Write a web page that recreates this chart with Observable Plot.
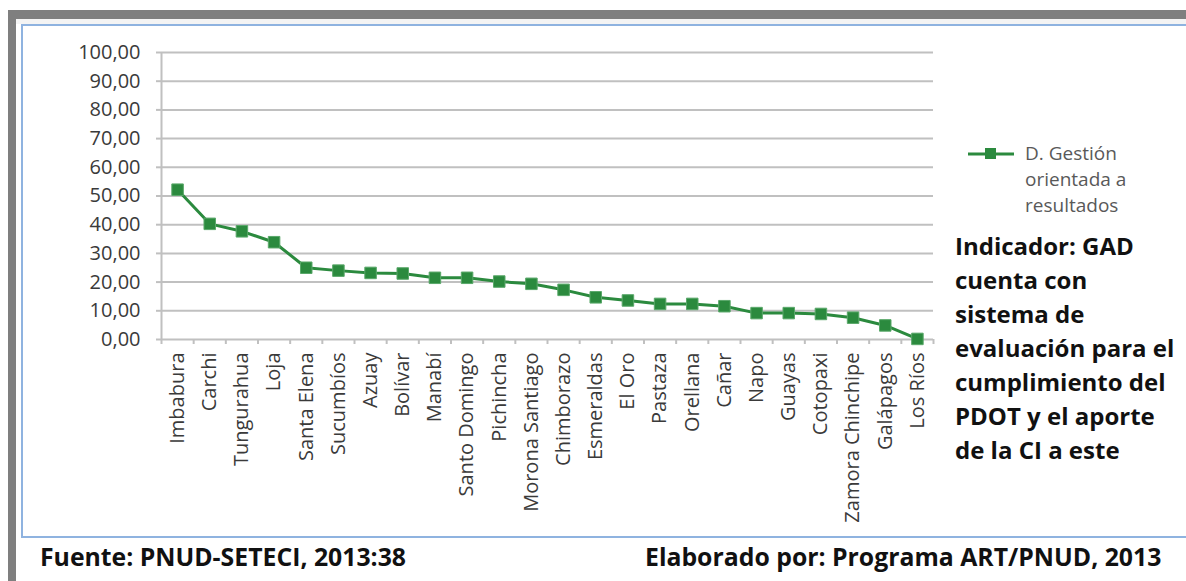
<!DOCTYPE html>
<html>
<head>
<meta charset="utf-8">
<script src="https://cdn.jsdelivr.net/npm/d3@7"></script>
<script src="https://cdn.jsdelivr.net/npm/@observablehq/plot@0.6"></script>
<style>
  html, body { margin: 0; padding: 0; background: #fff; width: 1186px; height: 581px; overflow: hidden; position: relative; font-family: "Open Sans", sans-serif; }
  .grayTop { position: absolute; left: 8px; top: 10px; width: 1178px; height: 9px; background: #7f7f7f; }
  .grayLeft { position: absolute; left: 8px; top: 10px; width: 8px; height: 571px; background: #7f7f7f; }
  .strip { position: absolute; left: 16px; top: 19px; width: 1170px; height: 5px; background: #f4f4f4; }
  .inner { position: absolute; left: 21px; top: 24px; width: 1180px; height: 514px; border: 2px solid #8fb3e0; box-sizing: border-box; }
  #chart { position: absolute; left: 0; top: 0; }
  .legend { position: absolute; left: 968px; top: 140px; font-size: 19px; line-height: 26px; color: #595959; }
  .legend svg { position: absolute; left: 0; top: 6px; }
  .legend .txt { position: absolute; left: 57px; top: 0; white-space: nowrap; }
  .indicator { position: absolute; left: 955px; top: 229px; font-weight: 700; font-size: 24px; line-height: 34px; color: #111; white-space: nowrap; }
  .foot { position: absolute; top: 539px; font-weight: 700; font-size: 24.8px; color: #111; white-space: nowrap; }
</style>
</head>
<body>
<div class="grayTop"></div>
<div class="grayLeft"></div>
<div class="strip"></div>
<div class="inner"></div>
<div id="chart"></div>
<div class="legend">
  <svg width="50" height="16"><line x1="0" y1="8" x2="46" y2="8" stroke="#2b8a3e" stroke-width="3"/><rect x="17" y="2" width="11" height="11" fill="#2b8a3e"/></svg>
  <div class="txt">D. Gestión<br>orientada a<br>resultados</div>
</div>
<div class="indicator">Indicador: GAD<br>cuenta con<br>sistema de<br>evaluación para el<br>cumplimiento del<br>PDOT y el aporte<br>de la CI a este</div>
<div class="foot" style="left:40px">Fuente: PNUD-SETECI, 2013:38</div>
<div class="foot" style="left:645px">Elaborado por: Programa ART/PNUD, 2013</div>
<script>
const provinces = ["Imbabura","Carchi","Tungurahua","Loja","Santa Elena","Sucumbíos","Azuay","Bolívar","Manabí","Santo Domingo","Pichincha","Morona Santiago","Chimborazo","Esmeraldas","El Oro","Pastaza","Orellana","Cañar","Napo","Guayas","Cotopaxi","Zamora Chinchipe","Galápagos","Los Ríos"];
const values = [52.2, 40.3, 37.7, 33.9, 25.0, 24.0, 23.2, 23.0, 21.5, 21.5, 20.2, 19.4, 17.3, 14.7, 13.6, 12.4, 12.4, 11.6, 9.2, 9.2, 8.9, 7.6, 4.9, 0.2];
const yTicks = [0, 10, 20, 30, 40, 50, 60, 70, 80, 90, 100];

const data = provinces.map((p, i) => ({province: p, idx: i + 0.5, value: values[i]}));
const green = "#2b8a3e";
const grid = "#c0c0c0";

const chart = Plot.plot({
  width: 1186,
  height: 581,
  marginLeft: 161,
  marginRight: 253,
  marginTop: 52,
  marginBottom: 242,
  style: {fontFamily: "Open Sans, sans-serif", fontSize: "20px", color: "#404040", background: "transparent"},
  x: {type: "linear", domain: [0, provinces.length]},
  y: {domain: [0, 100]},
  marks: [
    Plot.ruleY(yTicks, {stroke: grid, strokeWidth: 2}),
    Plot.ruleX([0], {y1: 0, y2: 100, stroke: grid, strokeWidth: 2}),
    Plot.axisY({ticks: yTicks, tickSize: 5, tickPadding: 16, stroke: grid, strokeWidth: 2, strokeOpacity: 1, tickFormat: d => d3.format(".2f")(d).replace(".", ","), label: null, fill: "#3a3a3a"}),
    Plot.axisX({ticks: d3.range(provinces.length + 1), tickSize: 5, stroke: grid, strokeWidth: 2, strokeOpacity: 1, tickFormat: () => "", label: null}),
    Plot.axisX({ticks: data.map(d => d.idx), tickSize: 0, tickPadding: 13, tickRotate: -90, tickFormat: i => provinces[Math.floor(i)], label: null, fill: "#3a3a3a"}),
    Plot.line(data, {x: "idx", y: "value", stroke: green, strokeWidth: 3}),
    Plot.dot(data, {x: "idx", y: "value", symbol: "square", r: 6.5, fill: green, stroke: "#5aa86a", strokeWidth: 1})
  ]
});
document.getElementById("chart").appendChild(chart);
</script>
</body>
</html>
